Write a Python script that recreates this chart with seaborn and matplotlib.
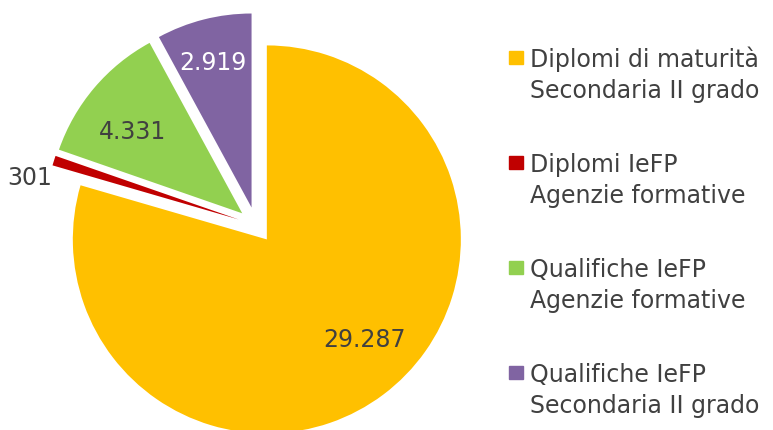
import numpy as np
import matplotlib.pyplot as plt
import seaborn as sns
from matplotlib.patches import Rectangle

sns.set_theme(style="white")
plt.rcParams['font.family'] = ['DejaVu Sans']

categories = ["Diplomi di maturità\nSecondaria II grado",
              "Diplomi IeFP\nAgenzie formative",
              "Qualifiche IeFP\nAgenzie formative",
              "Qualifiche IeFP\nSecondaria II grado"]
values = [29287, 301, 4331, 2919]

colors = ["#FFC000", "#C00000", "#92D050", "#8064A2"]
text_colors = ["#404040", "#404040", "#404040", "white"]
# label placement relative to each wedge (distance from its tip, angle tweak)
label_dist = [0.725, 1.10, 0.705, 0.77]
label_dang = [7.2, 6.5, 3.9, 0.9]

W, H = 773, 430
scale = 194.0          # pixels per unit radius
cx_px, cy_px = 256, 225

fig = plt.figure(figsize=(W / 100, H / 100), dpi=100)
ax = fig.add_axes([0, 0, 1, 1])

wedges, _ = ax.pie(values, colors=colors, startangle=90, counterclock=False,
                   explode=[0.093] * len(values), radius=1,
                   wedgeprops=dict(linewidth=0))

ax.set_aspect('auto')
ax.set_xlim(-cx_px / scale, (W - cx_px) / scale)
ax.set_ylim(-(H - cy_px) / scale, cy_px / scale)
ax.axis('off')

for w, v, d, da, tc in zip(wedges, values, label_dist, label_dang, text_colors):
    mid = np.deg2rad((w.theta1 + w.theta2) / 2 + da)
    x0, y0 = w.center
    txt = f"{v:,}".replace(",", ".")
    ax.text(x0 + d * np.cos(mid), y0 + d * np.sin(mid), txt,
            ha='center', va='center', fontsize=17, color=tc)

# legend
for i, (lab, c) in enumerate(zip(categories, colors)):
    base = 66.7 + i * 105
    fig.patches.append(Rectangle((509 / W, 1 - (base - 2.5) / H), 13.5 / W, 13.5 / H,
                                 transform=fig.transFigure, color=c, figure=fig))
    for j, line in enumerate(lab.split("\n")):
        fig.text(530 / W, 1 - (base + j * 31.6) / H, line, ha='left',
                 va='baseline', fontsize=17, color="#404040")

plt.savefig("out.png", dpi=100)
